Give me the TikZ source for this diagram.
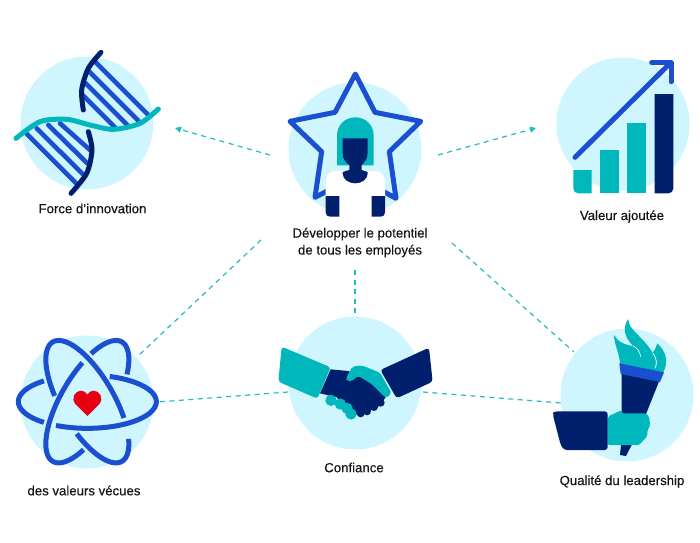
\documentclass[tikz,border=0pt]{standalone}
\usepackage{fontspec}
\setmainfont{Liberation Sans}[BoldFont={Liberation Sans},BoldFeatures={FakeBold=0.25}]
\usetikzlibrary{arrows.meta}

\definecolor{disccol}{HTML}{CFF5FF}
\definecolor{tealcol}{HTML}{00B8BC}
\definecolor{navycol}{HTML}{00206E}
\definecolor{bluecol}{HTML}{1A4FD0}
\definecolor{redcol}{HTML}{E60012}
\definecolor{dashcol}{HTML}{20BDC0}
\definecolor{textcol}{HTML}{111418}

\tikzset{
  disc/.style={circle, fill=disccol, minimum size=133pt, inner sep=0pt},
  lbl/.style={text=textcol, font=\fontsize{13.2}{17}\selectfont\bfseries, align=center, inner sep=0pt},
  link/.style={draw=dashcol, line width=1.2pt, dash pattern=on 5pt off 4.5pt},
  icon/.style={shift={#1}, scale=1/3},
  orbit/.style={draw=bluecol, line width=5pt},
  rung/.style={draw=bluecol, line width=4.6pt, line cap=round},
}

\begin{document}
\begin{tikzpicture}[x=1pt, y=-1pt]
    \useasboundingbox (0,0) rectangle (700,542);

    % Nodes
    \node [disc] (force) at (87,123) {};
    \node [disc] (staff) at (355,149) {};
    \node [disc] (value) at (623,124) {};
    \node [disc] (atom) at (87,402) {};
    \node [disc] (trust) at (355,383) {};
    \node [disc] (torch) at (627,395) {};

    \node [lbl] (forcelbl) at (92.5,208.5) {Force d'innovation};
    \node [lbl] (stafflbl) at (360,242.5) {Développer le potentiel\\de tous les employés};
    \node [lbl] (valuelbl) at (622,216.5) {Valeur ajoutée};
    \node [lbl] (atomlbl) at (84,490.5) {des valeurs vécues};
    \node [lbl] (trustlbl) at (354,467.5) {Confiance};
    \node [lbl] (torchlbl) at (622,481.5) {Qualité du leadership};

    \coordinate (A1) at (270,155);
    \coordinate (A2) at (175,128);
    \coordinate (B1) at (438,155);
    \coordinate (B2) at (536,128);
    \coordinate (C1) at (261,240);
    \coordinate (C2) at (138,356);
    \coordinate (D1) at (355,270);
    \coordinate (D2) at (355,316);
    \coordinate (E1) at (452,243);
    \coordinate (E2) at (574,352);
    \coordinate (F1) at (288,392);
    \coordinate (F2) at (158,402);
    \coordinate (G1) at (423,392);
    \coordinate (G2) at (561,403);

    % Arrows
    \draw [link, -{Triangle[length=6pt,width=6pt]}] (A1) -- (A2);
    \draw [link, -{Triangle[length=6pt,width=6pt]}] (B1) -- (B2);
    \draw [link] (C1) -- (C2);
    \draw [link] (D1) -- (D2);
    \draw [link] (E1) -- (E2);
    \draw [link] (F1) -- (F2);
    \draw [link] (G1) -- (G2);

    % DNA
    \begin{scope}[icon={(0,30)}]
        \foreach \a/\b/\c/\d in {285/95/445/255, 268/125/415/272, 255/158/383/286, 248/195/345/292,
                                 232/463/80/311, 248/432/110/295, 262/400/145/285, 270/360/180/280}
            \draw [rung] (\a,\b) -- (\c,\d);
        \draw [navycol, line width=5pt, line cap=round] plot [smooth] coordinates {(303,67) (265,115) (245,180) (250,240)};
        \draw [navycol, line width=5pt, line cap=round] plot [smooth] coordinates {(265,305) (276,360) (260,430) (213,490)};
        \draw [tealcol, line width=5pt, line cap=round] plot [smooth] coordinates {(48,325) (120,275) (200,268) (270,285) (340,298) (420,280) (475,237)};
    \end{scope}

    % Star and person
    \begin{scope}[icon={(260,60)}]
        \draw [bluecol, line width=5pt, line join=round]
            (286,42) -- (345,157) -- (482,184) -- (388,275) -- (408,415) -- (287,350)
            -- (165,412) -- (185,275) -- (90,184) -- (225,157) -- cycle;
        \fill [white] (197,470) -- (197,365) .. controls (197,345) and (210,333) .. (230,333)
            -- (345,333) .. controls (362,333) and (375,345) .. (375,365) -- (375,470) -- cycle;
        \fill [tealcol] (231,316) -- (231,227) .. controls (231,195) and (255,172) .. (286,172)
            .. controls (317,172) and (341,195) .. (341,227) -- (341,316) -- cycle;
        \fill [navycol] (248,235) -- (323,235) -- (323,280) .. controls (323,298) and (312,308) .. (305,315)
            -- (305,330) -- (323,336) -- (323,340) .. controls (323,358) and (305,370) .. (286,370)
            .. controls (266,370) and (248,358) .. (248,340) -- (248,336) -- (268,330) -- (268,315)
            .. controls (258,308) and (248,298) .. (248,280) -- cycle;
        \fill [navycol] (197,408) -- (238,408) -- (238,470) -- (210,470) .. controls (202,470) and (197,465) .. (197,457) -- cycle;
        \fill [navycol] (335,408) -- (375,408) -- (375,457) .. controls (375,465) and (370,470) .. (362,470) -- (335,470) -- cycle;
    \end{scope}

    % Chart
    \begin{scope}[icon={(540,40)}]
        \fill [tealcol] (100,390) -- (155,390) -- (155,460) -- (115,460) .. controls (106,460) and (100,454) .. (100,445) -- cycle;
        \fill [tealcol] (181,330) rectangle (237,460);
        \fill [tealcol] (262,250) rectangle (318,460);
        \fill [navycol] (344,162) -- (400,162) -- (400,445) .. controls (400,454) and (394,460) .. (385,460) -- (344,460) -- cycle;
        \draw [bluecol, line width=5pt, line cap=round] (105,352) -- (388,72);
        \draw [bluecol, line width=5pt, line cap=round, line join=round] (335,68) -- (393,68) -- (393,125);
    \end{scope}

    % Atom
    \begin{scope}[icon={(0,320)}]
        \begin{scope}[shift={(262,245)}]
            \draw [orbit] plot [domain=129:231, samples=30] ({207*cos(\x)},{-80*sin(\x)});
            \draw [orbit] plot [domain=243:431, samples=50] ({207*cos(\x)},{-80*sin(\x)});
            \begin{scope}[rotate=-60]
                \draw [orbit] plot [domain=62:252, samples=50] ({207*cos(\x)},{-80*sin(\x)});
                \draw [orbit] plot [domain=289:400, samples=30] ({207*cos(\x)},{-80*sin(\x)});
            \end{scope}
            \begin{scope}[rotate=60]
                \draw [orbit] plot [domain=63:231, samples=50] ({207*cos(\x)},{-80*sin(\x)});
                \draw [orbit] plot [domain=-51:51, samples=30] ({207*cos(\x)},{-80*sin(\x)});
            \end{scope}
        \end{scope}
        \fill [redcol] (262,288) -- (226,252) .. controls (212,235) and (225,212) .. (243,212)
            .. controls (252,212) and (258,217) .. (262,224)
            .. controls (266,217) and (272,212) .. (281,212)
            .. controls (299,212) and (312,235) .. (298,252) -- cycle;
    \end{scope}

    % Handshake
    \begin{scope}[icon={(265,310)}]
        \fill [navycol] (197,178) -- (250,183) -- (345,225) -- (362,262) -- (340,290)
            -- (310,305) -- (285,318) -- (270,312) -- (215,262) -- (165,250) -- cycle;
        \foreach \cx/\cy in {347/278, 327/291, 306/304, 287/310}
            \fill [navycol] (\cx,\cy) circle (12);
        \fill [tealcol, rounded corners=2pt] (243,205) -- (262,170) -- (290,166) -- (345,188) -- (380,250)
            -- (362,264) -- (320,222) -- (278,197) -- (262,213) -- (245,213) -- cycle;
        \foreach \cx/\cy in {198/271, 226/282, 246/295, 258/312}
            \fill [tealcol] (\cx,\cy) circle (17);
        \fill [tealcol, rounded corners=3pt] (50,110) -- (197,172) -- (157,266) -- (40,215) -- cycle;
        \fill [navycol, rounded corners=3pt] (346,180) -- (492,113) -- (503,215) -- (395,265) -- cycle;
    \end{scope}

    % Torch
    \begin{scope}[icon={(540,310)}]
        \fill [tealcol] (240,165) .. controls (240,130) and (222,105) .. (222,75)
            .. controls (232,95) and (255,105) .. (280,108)
            .. controls (255,85) and (245,55) .. (265,27)
            .. controls (265,60) and (305,75) .. (338,128)
            .. controls (345,118) and (350,110) .. (352,100)
            .. controls (378,125) and (388,155) .. (368,190) -- cycle;
        \draw [white, line width=0.7pt] (338,128) .. controls (350,145) and (352,160) .. (345,175);
        \draw [white, line width=0.7pt] (280,108) .. controls (292,115) and (300,125) .. (302,140);
        \fill [navycol] (245,190) -- (358,212) -- (318,312) -- (245,312) -- cycle;
        \fill [navycol] (243,405) -- (275,405) -- (258,438) -- (240,435) -- cycle;
        \fill [bluecol] (238,160) -- (372,187) -- (360,216) -- (242,192) -- cycle;
        \fill [tealcol, rounded corners=2pt] (203,320) -- (245,300) -- (245,310) -- (318,310) -- (328,320)
            -- (328,335) -- (332,345) -- (322,360) -- (322,380) -- (305,395) -- (300,405) -- (203,405) -- cycle;
        \fill [navycol, rounded corners=3pt] (38,312) -- (42,304) -- (203,304) -- (203,420) -- (72,420) -- (62,405) -- cycle;
    \end{scope}

\end{tikzpicture}
\end{document}
